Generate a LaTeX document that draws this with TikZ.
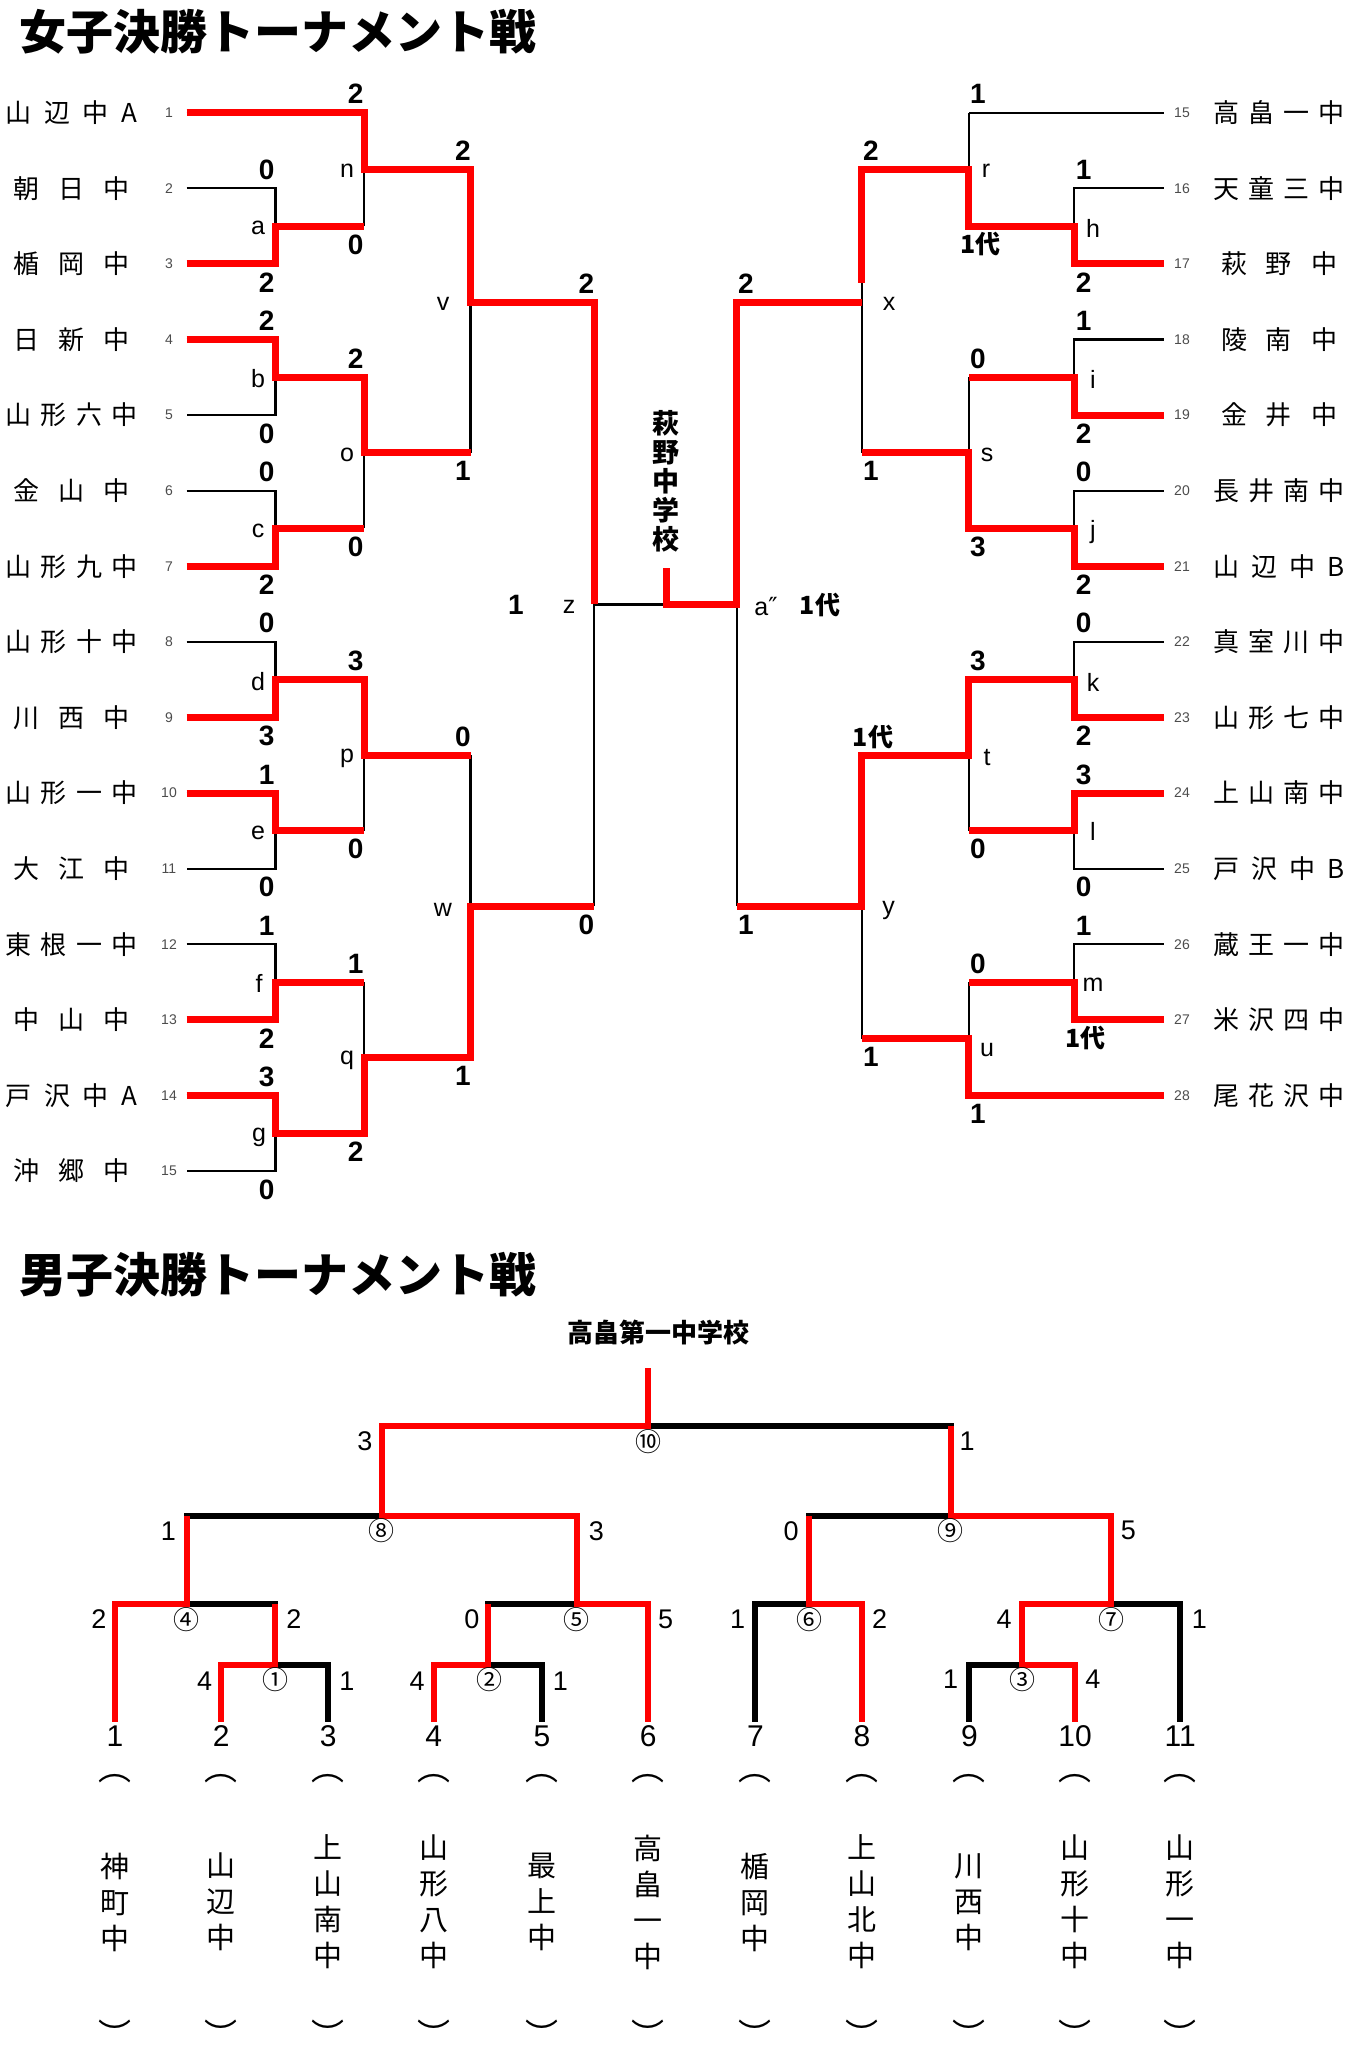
\documentclass[tikz,border=0pt]{standalone}
\usepackage{fontspec}
\setmainfont{Liberation Sans}
\newfontfamily\cjk{Noto Sans CJK JP}
\newfontfamily\dvs{DejaVu Sans}
\newcommand\nmfour[4]{\makebox[132pt]{#1\hfill#2\hfill#3\hfill#4}}
\newcommand\nmthree[3]{\makebox[116pt]{#1\hfill#2\hfill#3}}
\begin{document}
\begin{tikzpicture}[x=1pt,y=-1pt,
  bk/.style={line width=2.2pt,black},
  rd/.style={line width=7pt,red},
  mb/.style={line width=6pt,black},
  mr/.style={line width=6pt,red},
  sc/.style={inner sep=0pt,font=\bfseries\fontsize{28}{28}\selectfont},
  lt/.style={inner sep=0pt,font=\fontsize{25}{25}\selectfont},
  sd/.style={inner sep=0pt,text=black!70,font=\fontsize{14}{14}\selectfont},
  nm/.style={inner sep=0pt,font=\cjk\fontsize{26}{26}\selectfont},
  dai/.style={inner sep=0pt,font=\cjk\bfseries\fontsize{25}{25}\selectfont},
  ttl/.style={inner sep=0pt,anchor=west,font=\cjk\bfseries\fontsize{47}{47}\selectfont},
  ms/.style={inner sep=0pt,font=\fontsize{27}{27}\selectfont},
  mn/.style={inner sep=0pt,font=\fontsize{30}{30}\selectfont},
  cn/.style={inner sep=0pt,font=\cjk\fontsize{26}{26}\selectfont},
  vn/.style={inner sep=0pt,align=center,font=\cjk\fontsize{29}{36}\selectfont},
  vs/.style={inner sep=0pt,align=center,font=\cjk\bfseries\fontsize{27}{29}\selectfont},
  pr/.style={inner sep=0pt,font=\cjk\fontsize{33}{33}\selectfont},
]
\fill[white] (0,0) rectangle (1356,2048);
\useasboundingbox (0,0) rectangle (1356,2048);

% ---------- titles ----------
\node[ttl] (title1) at (19.5,32) {女子決勝トーナメント戦};
\node[ttl] (title2) at (19.5,1274.5) {男子決勝トーナメント戦};

% ---------- women: coordinates ----------
\foreach \i/\y in {1/112.6,2/188.2,3/263.8,4/339.4,5/415.0,6/490.6,7/566.2,8/641.8,9/717.4,10/793.0,11/868.6,12/944.2,13/1019.8,14/1095.4,15/1171.0}
  \coordinate (L\i) at (186.5,\y);
\foreach \i/\y in {15/112.6,16/188.2,17/263.8,18/339.4,19/415.0,20/490.6,21/566.2,22/641.8,23/717.4,24/793.0,25/868.6,26/944.2,27/1019.8,28/1095.4}
  \coordinate (R\i) at (1163.9,\y);
\coordinate (la) at (275.4,226.0);
\coordinate (lb) at (275.4,377.2);
\coordinate (lc) at (275.4,528.4);
\coordinate (ld) at (275.4,679.6);
\coordinate (le) at (275.4,830.8);
\coordinate (lf) at (275.4,982.0);
\coordinate (lg) at (275.4,1133.2);
\coordinate (ln) at (364.3,169.3);
\coordinate (lo) at (364.3,452.8);
\coordinate (lp) at (364.3,755.2);
\coordinate (lq) at (364.3,1057.6);
\coordinate (lv) at (470.5,302.4);
\coordinate (lw) at (470.5,906.4);
\coordinate (lz) at (594.1,604.4);
\coordinate (fin) at (666,604.4);
\coordinate (fintop) at (666,568.3);
\coordinate (ra) at (736.7,604.4);
\coordinate (rh) at (1074,226.0);
\coordinate (ri) at (1074,377.2);
\coordinate (rj) at (1074,528.4);
\coordinate (rk) at (1074,679.6);
\coordinate (rl) at (1074,830.8);
\coordinate (rm) at (1074,982.0);
\coordinate (rr) at (968.7,169.3);
\coordinate (rs) at (968.7,452.8);
\coordinate (rt) at (968.7,755.2);
\coordinate (ru) at (968.7,1038.7);
\coordinate (rx) at (861.6,302.4);
\coordinate (ry) at (861.6,906.4);
\coordinate (xcut) at (861.6,282.6);

% ---------- women: black skeleton ----------
\draw[bk] (L1) -- (L1 -| ln);
\foreach \p/\q/\j in {2/3/la,4/5/lb,6/7/lc,8/9/ld,10/11/le,12/13/lf,14/15/lg}{
  \draw[bk] (L\p) -| (\j) |- (L\q);
  \draw[bk] (\j) -- (\j -| ln);
}
\draw[bk] (L1 -| ln) -- (la -| ln);
\draw[bk] (lb -| lo) -- (lc -| lo);
\draw[bk] (ld -| lp) -- (le -| lp);
\draw[bk] (lf -| lq) -- (lg -| lq);
\draw[bk] (ln) -- (ln -| lv);
\draw[bk] (lo) -- (lo -| lv);
\draw[bk] (lp) -- (lp -| lw);
\draw[bk] (lq) -- (lq -| lw);
\draw[bk] (ln -| lv) -- (lo -| lv);
\draw[bk] (lp -| lw) -- (lq -| lw);
\draw[bk] (lv) -- (lv -| lz);
\draw[bk] (lw) -- (lw -| lz);
\draw[bk] (lv -| lz) -- (lw -| lz);
\draw[bk] (lz) -- (ra);

\draw[bk] (R15) -- (R15 -| rr);
\draw[bk] (R28) -- (R28 -| ru);
\foreach \p/\q/\j in {16/17/rh,18/19/ri,20/21/rj,22/23/rk,24/25/rl,26/27/rm}{
  \draw[bk] (R\p) -| (\j) |- (R\q);
  \draw[bk] (\j) -- (\j -| rr);
}
\draw[bk] (R15 -| rr) -- (rh -| rr);
\draw[bk] (ri -| rs) -- (rj -| rs);
\draw[bk] (rk -| rt) -- (rl -| rt);
\draw[bk] (rm -| ru) -- (R28 -| ru);
\draw[bk] (rr) -- (rr -| rx);
\draw[bk] (rs) -- (rs -| rx);
\draw[bk] (rt) -- (rt -| ry);
\draw[bk] (ru) -- (ru -| ry);
\draw[bk] (rr -| rx) -- (rs -| rx);
\draw[bk] (rt -| ry) -- (ru -| ry);
\draw[bk] (rx) -- (rx -| ra);
\draw[bk] (ry) -- (ry -| ra);
\draw[bk] (rx -| ra) -- (ry -| ra);

% ---------- women: red winners ----------
\draw[rd] (L1) -| (ln) -| (lv) -| (lz);
\draw[rd] (L3) -| (la) -- (la -| ln);
\draw[rd] (L4) -| (lb) -| (lo) -- (lo -| lv);
\draw[rd] (L7) -| (lc) -- (lc -| lo);
\draw[rd] (L9) -| (ld) -| (lp) -- (lp -| lw);
\draw[rd] (L10) -| (le) -- (le -| lp);
\draw[rd] (L13) -| (lf) -- (lf -| lq);
\draw[rd] (L14) -| (lg) -| (lq) -| (lw) -- (lw -| lz);

\draw[rd] (R17) -| (rh) -| (rr) -- (rr -| rx) -- (xcut);
\draw[rd] (rx) -| (ra) -- (fin) -- (fintop);
\draw[rd] (R19) -| (ri) -- (ri -| rs);
\draw[rd] (R21) -| (rj) -| (rs) -- (rs -| rx);
\draw[rd] (R23) -| (rk) -| (rt) -| (ry) -- (ry -| ra);
\draw[rd] (R24) -| (rl) -- (rl -| rt);
\draw[rd] (R27) -| (rm) -- (rm -| ru);
\draw[rd] (R28) -| (ru) -- (ru -| ry);

% ---------- women: team names and seeds ----------
\foreach \i/\y/\t in {
 1/112.6/{\nmfour{山}{辺}{中}{A}},
 2/188.2/{\nmthree{朝}{日}{中}},
 3/263.8/{\nmthree{楯}{岡}{中}},
 4/339.4/{\nmthree{日}{新}{中}},
 5/415.0/{\nmfour{山}{形}{六}{中}},
 6/490.6/{\nmthree{金}{山}{中}},
 7/566.2/{\nmfour{山}{形}{九}{中}},
 8/641.8/{\nmfour{山}{形}{十}{中}},
 9/717.4/{\nmthree{川}{西}{中}},
 10/793.0/{\nmfour{山}{形}{一}{中}},
 11/868.6/{\nmthree{大}{江}{中}},
 12/944.2/{\nmfour{東}{根}{一}{中}},
 13/1019.8/{\nmthree{中}{山}{中}},
 14/1095.4/{\nmfour{戸}{沢}{中}{A}},
 15/1171.0/{\nmthree{沖}{郷}{中}}}{
  \node[nm] (wnl\i) at (71.5,\y) {\t};
  \node[sd] (wsl\i) at (169,\y) {\i};
}
\foreach \i/\y/\t in {
 15/112.6/{\nmfour{高}{畠}{一}{中}},
 16/188.2/{\nmfour{天}{童}{三}{中}},
 17/263.8/{\nmthree{萩}{野}{中}},
 18/339.4/{\nmthree{陵}{南}{中}},
 19/415.0/{\nmthree{金}{井}{中}},
 20/490.6/{\nmfour{長}{井}{南}{中}},
 21/566.2/{\nmfour{山}{辺}{中}{B}},
 22/641.8/{\nmfour{真}{室}{川}{中}},
 23/717.4/{\nmfour{山}{形}{七}{中}},
 24/793.0/{\nmfour{上}{山}{南}{中}},
 25/868.6/{\nmfour{戸}{沢}{中}{B}},
 26/944.2/{\nmfour{蔵}{王}{一}{中}},
 27/1019.8/{\nmfour{米}{沢}{四}{中}},
 28/1095.4/{\nmfour{尾}{花}{沢}{中}}}{
  \node[nm] (wnr\i) at (1279,\y) {\t};
  \node[sd] (wsr\i) at (1182,\y) {\i};
}

% ---------- women: scores ----------
\foreach \x/\y/\t [count=\n] in {
 266.7/169.7/0,266.7/282.3/2,266.7/320.9/2,266.7/433.5/0,266.7/472.1/0,266.7/584.7/2,266.7/623.3/0,
 266.7/735.9/3,266.7/774.5/1,266.7/887.1/0,266.7/925.7/1,266.7/1038.3/2,266.7/1076.9/3,266.7/1189.5/0,
 355.6/94.1/2,355.6/244.5/0,355.6/358.7/2,355.6/546.9/0,355.6/661.1/3,355.6/849.3/0,355.6/963.5/1,355.6/1151.7/2,
 463/150.8/2,463/471.3/1,463/736.7/0,463/1076.1/1,
 586.3/283.9/2,586.3/924.9/0,516/605/1,
 1083.6/169.7/1,1083.6/282.3/2,1083.6/320.9/1,1083.6/433.5/2,1083.6/472.1/0,1083.6/584.7/2,
 1083.6/623.3/0,1083.6/735.9/2,1083.6/774.5/3,1083.6/887.1/0,1083.6/925.7/1,
 978/94.1/1,978/358.7/0,978/546.9/3,978/661.1/3,978/849.3/0,978/963.5/0,978/1113.9/1,
 871/150.8/2,871/471.3/1,871/1057.2/1,
 746/283.9/2,746/924.9/1}
  \node[sc] (wsc\n) at (\x,\y) {\t};
\foreach \x/\y [count=\n] in {1085.8/1038.3,980.6/244.5,873/736.7,820/604.7}
  \node[dai] (wdai\n) at (\x,\y) {1代};

% ---------- women: match letters ----------
\foreach \x/\y/\t in {
 258/228/a,258/379/b,258/531/c,258/682/d,258/833/e,259/983/f,259/1137/g,
 347/171/n,347/455/o,347/758/p,347/1060/q,443/304/v,443/910/w,569/607/z,
 1093/228/h,1093/379.5/i,1093/531.6/j,1093/682/k,1093/831/l,1093/985/m,
 986/171/r,987/455/s,987/758/t,987/1050/u,889/304/x,888.5/910/y}
  \node[lt] (wl\t) at (\x,\y) {\t};
\node[lt] (wlaa) at (766,607) {a{\dvs ″}};
\node[vs] (host1) at (666,481) {萩\\野\\中\\学\\校};

% ---------- men: coordinates ----------
\foreach \k/\x in {1/115,2/221.2,3/328.3,4/433.7,5/542,6/648.3,7/755.4,8/862,9/969.4,10/1075,11/1180.2}
  \coordinate (c\k) at (\x,1721.8);
\coordinate (m1) at (274.5,1664.6);
\coordinate (m2) at (487.9,1664.6);
\coordinate (m3) at (1021.7,1664.6);
\coordinate (m4) at (186.5,1604);
\coordinate (m5) at (576.8,1604);
\coordinate (m6) at (808.7,1604);
\coordinate (m7) at (1110.5,1604);
\coordinate (m8) at (381.6,1515.7);
\coordinate (m9) at (950.7,1515.7);
\coordinate (m10) at (648.3,1426.4);
\coordinate (mtop) at (648.3,1368);

\draw[mb] (c2) |- (m1) -| (c3);
\draw[mb] (c4) |- (m2) -| (c5);
\draw[mb] (c9) |- (m3) -| (c10);
\draw[mb] (c1) |- (m4) -| (m1);
\draw[mb] (m2) |- (m5) -| (c6);
\draw[mb] (c7) |- (m6) -| (c8);
\draw[mb] (m3) |- (m7) -| (c11);
\draw[mb] (m4) |- (m8) -| (m5);
\draw[mb] (m6) |- (m9) -| (m7);
\draw[mb] (m8) |- (m10) -| (m9);
\draw[mb] (m10) -- (mtop);

\draw[mr] (c2) |- (m1) -- (m1 |- m4);
\draw[mr] (c1) |- (m4) -- (m4 |- m8);
\draw[mr] (c4) |- (m2) -- (m2 |- m5);
\draw[mr] (c6) |- (m5) |- (m8) |- (m10) -- (mtop);
\draw[mr] (c8) |- (m6) -- (m6 |- m9);
\draw[mr] (c10) |- (m3) |- (m7) |- (m9) -- (m9 |- m10);

\node[vs,align=left,font=\cjk\bfseries\fontsize{26}{26}\selectfont] (host2) at (658.4,1332.5) {高畠第一中学校};

\foreach \x/\y/\t [count=\n] in {
 365/1441.4/3,967/1441.4/1,168.3/1530.7/1,596.3/1530.7/3,791/1530.7/0,1128.3/1530.7/5,
 98.9/1619.3/2,294/1619.3/2,471.8/1619.3/0,665.7/1619.3/5,737.7/1619.3/1,879.7/1619.3/2,1004/1619.3/4,1199.3/1619.3/1,
 204.7/1680.7/4,347/1680.7/1,417.2/1680.7/4,560.3/1680.7/1,950.7/1679/1,1092.8/1679/4}
  \node[ms] (msc\n) at (\x,\y) {\t};
\foreach \x/\y/\t [count=\n] in {
 648.3/1442/⑩,381.6/1531/⑧,950.7/1531/⑨,186.5/1620/④,576.8/1620/⑤,
 809.6/1620/⑥,1111.4/1620/⑦,275.4/1680/①,489/1680/②,1022.6/1680/③}
  \node[cn] (mcn\n) at (\x,\y) {\t};

\foreach \k/\x/\t in {
 1/115/{神\\町\\中},2/221.2/{山\\辺\\中},3/328.3/{上\\山\\南\\中},4/433.7/{山\\形\\八\\中},
 5/542/{最\\上\\中},6/648.3/{高\\畠\\一\\中},7/755.4/{楯\\岡\\中},8/862/{上\\山\\北\\中},
 9/969.4/{川\\西\\中},10/1075/{山\\形\\十\\中},11/1180.2/{山\\形\\一\\中}}{
  \node[mn] (mnum\k) at (\x,1736) {\k};
  \node[pr] (mpa\k) at (\x,1779) {︵};
  \node[vn] (mname\k) at (\x,1902) {\t};
  \node[pr] (mpb\k) at (\x,2034) {︶};
}
\end{tikzpicture}
\end{document}
